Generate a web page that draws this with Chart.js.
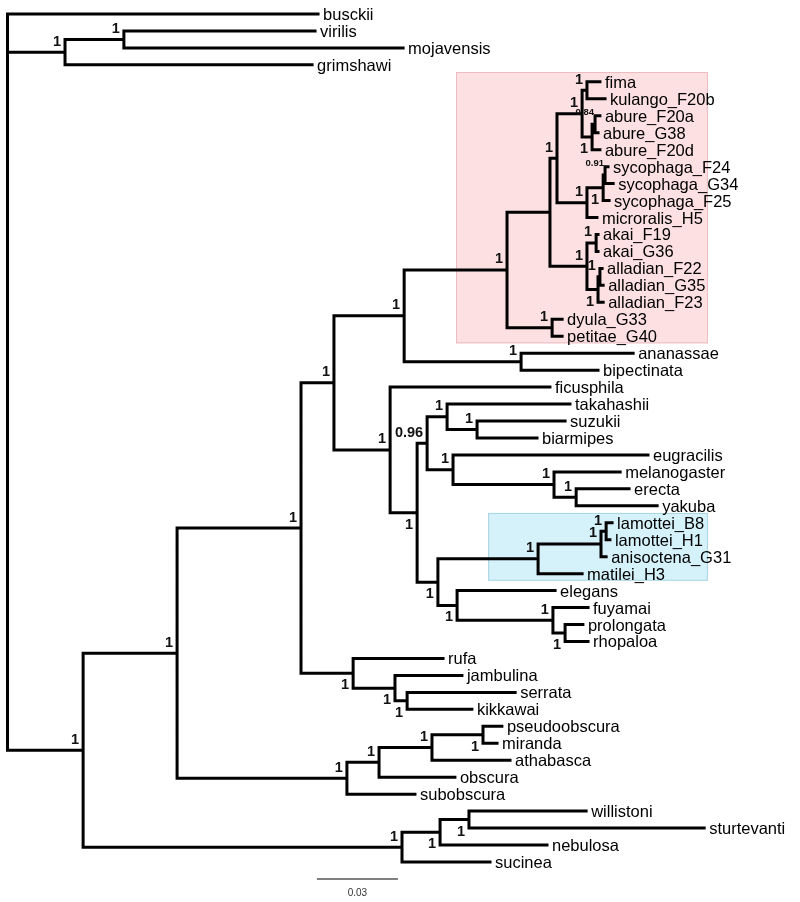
<!DOCTYPE html>
<html>
<head>
<meta charset="utf-8">
<title>Drosophila phylogeny</title>
<script src="https://cdn.jsdelivr.net/npm/chart.js@4.4.1/dist/chart.umd.min.js"></script>
<style>
  body { margin: 0; background: #fff; }
  canvas { display: block; }
</style>
</head>
<body>
<canvas id="tree" width="800" height="902"></canvas>
<script>
// taxa, top to bottom
const taxa = [
    'busckii', 'virilis', 'mojavensis', 'grimshawi',
    'fima', 'kulango_F20b', 'abure_F20a', 'abure_G38', 'abure_F20d',
    'sycophaga_F24', 'sycophaga_G34', 'sycophaga_F25', 'microralis_H5',
    'akai_F19', 'akai_G36', 'alladian_F22', 'alladian_G35', 'alladian_F23',
    'dyula_G33', 'petitae_G40', 'ananassae', 'bipectinata', 'ficusphila',
    'takahashii', 'suzukii', 'biarmipes', 'eugracilis', 'melanogaster',
    'erecta', 'yakuba', 'lamottei_B8', 'lamottei_H1', 'anisoctena_G31',
    'matilei_H3', 'elegans', 'fuyamai', 'prolongata', 'rhopaloa', 'rufa',
    'jambulina', 'serrata', 'kikkawai', 'pseudoobscura', 'miranda',
    'athabasca', 'obscura', 'subobscura', 'willistoni', 'sturtevanti',
    'nebulosa', 'sucinea'
];

// distance of each tip from the root (substitutions/site)
const tipDepth = [
    0.1150, 0.1139, 0.1465, 0.1128,
    0.2194, 0.2213, 0.2194, 0.2187, 0.2194,
    0.2224, 0.2243, 0.2228, 0.2183,
    0.2187, 0.2187, 0.2202, 0.2206, 0.2206,
    0.2054, 0.2054, 0.2317, 0.2187, 0.2009,
    0.2083, 0.2065, 0.1961, 0.2372, 0.2269,
    0.2302, 0.2406, 0.2239, 0.2231, 0.2217,
    0.2128, 0.2028, 0.2150, 0.2131, 0.2150, 0.1613,
    0.1683, 0.1880, 0.1720, 0.1831, 0.1813,
    0.1861, 0.1657, 0.1509, 0.2143, 0.2580,
    0.1998, 0.1787
];

// topology: internal nodes as )support:depth-from-root
const topology = `
(busckii,
 ((virilis,mojavensis)1:0.0431,grimshawi)1:0.0213,
 (
  (
   (
    (
     (
      (
       (
        (
         ((fima,kulango_F20b)1:0.2146,((abure_F20a,abure_G38)0.84:0.2176,abure_F20d)1:0.2165)1:0.2128,
         (((sycophaga_F24,sycophaga_G34)0.91:0.2213,sycophaga_F25)1:0.2206,microralis_H5)1:0.2146
        )1:0.2035,
        ((akai_F19,akai_G36)1:0.2180,((alladian_F22,alladian_G35)1:0.2194,alladian_F23)1:0.2187)1:0.2146
       ):0.2009,
       (dyula_G33,petitae_G40)1:0.2017
      )1:0.1850,
      (ananassae,bipectinata)1:0.1902
     )1:0.1469,
     (ficusphila,
      (
       ((takahashii,(suzukii,biarmipes)1:0.1739)1:0.1628,(eugracilis,(melanogaster,(erecta,yakuba)1:0.2106)1:0.2024)1:0.1650)0.96:0.1554,
       ((((lamottei_B8,lamottei_H1)1:0.2217,anisoctena_G31)1:0.2198,matilei_H3)1:0.1965,(elegans,(fuyamai,(prolongata,rhopaloa)1:0.2065)1:0.2020)1:0.1665)1:0.1594
      )1:0.1517
     )1:0.1417
    )1:0.1209,
    (rufa,(jambulina,(serrata,kikkawai)1:0.1480)1:0.1435)1:0.1280
   )1:0.1087,
   ((((pseudoobscura,miranda)1:0.1761,athabasca)1:0.1572,obscura)1:0.1376,subobscura)1:0.1257
  )1:0.0628,
  (((willistoni,sturtevanti)1:0.1709,nebulosa)1:0.1602,sucinea)1:0.1461
 )1:0.0280
)`;

// nodes whose support value sits under the branch (first tip|last tip)
const labelBelow = [
    'abure_F20a|abure_F20d', 'sycophaga_F24|sycophaga_F25', 'alladian_F22|alladian_F23',
    'takahashii|rhopaloa', 'lamottei_B8|rhopaloa', 'elegans|rhopaloa', 'prolongata|rhopaloa',
    'rufa|kikkawai', 'jambulina|kikkawai', 'serrata|kikkawai', 'pseudoobscura|miranda',
    'willistoni|nebulosa', 'willistoni|sturtevanti'
];

// shaded clades
const cladeFirst = ['fima', 'lamottei_B8'];
const cladeLast = ['petitae_G40', 'matilei_H3'];
const cladeStart = [0.1661, 0.1780];
const cladeEnd = [0.2594, 0.2594];
const cladeFill = ['#fde0e1', '#d5f1fa'];
const cladeEdge = ['#ecbcc0', '#a9d5e4'];

const scaleBarLength = 0.03;

function parseTree(text) {
    const s = text.replace(/\s+/g, '');
    let pos = 0;
    function readNode() {
        const node = { children: [] };
        if (s[pos] === '(') {
            pos++;
            node.children.push(readNode());
            while (s[pos] === ',') {
                pos++;
                node.children.push(readNode());
            }
            pos++;
        }
        let label = '';
        while (pos < s.length && !':,()'.includes(s[pos])) label += s[pos++];
        let depth = '';
        if (s[pos] === ':') {
            pos++;
            while (pos < s.length && !',()'.includes(s[pos])) depth += s[pos++];
        }
        if (node.children.length) {
            node.support = label;
            node.x = depth ? parseFloat(depth) : 0;
        } else {
            node.name = label;
            node.index = taxa.indexOf(label);
            node.x = tipDepth[node.index];
        }
        return node;
    }
    return readNode();
}

// y = tip order, internal nodes halfway between first and last child
function layout(node, internals) {
    if (!node.children.length) {
        node.y = node.index;
        node.first = node.name;
        node.last = node.name;
        return;
    }
    node.children.forEach(c => layout(c, internals));
    const a = node.children[0];
    const b = node.children[node.children.length - 1];
    node.y = (a.y + b.y) / 2;
    node.first = a.first;
    node.last = b.last;
    internals.push(node);
}

const root = parseTree(topology);
const internalNodes = [];
layout(root, internalNodes);

const gap = { x: null, y: null };
const branches = [];
internalNodes.forEach(n => {
    const a = n.children[0];
    const b = n.children[n.children.length - 1];
    branches.push({ x: a.x, y: a.y }, { x: n.x, y: a.y }, { x: n.x, y: b.y }, { x: b.x, y: b.y }, gap);
    n.children.slice(1, -1).forEach(c => {
        branches.push({ x: n.x, y: c.y }, { x: c.x, y: c.y }, gap);
    });
});

const treePlugin = {
    id: 'treeText',
    beforeDatasetsDraw(chart) {
        const { ctx, scales: { x, y } } = chart;
        ctx.save();
        cladeFirst.forEach((first, i) => {
            const left = x.getPixelForValue(cladeStart[i]);
            const right = x.getPixelForValue(cladeEnd[i]);
            const top = y.getPixelForValue(taxa.indexOf(first) - 0.58);
            const bottom = y.getPixelForValue(taxa.indexOf(cladeLast[i]) + 0.42);
            ctx.fillStyle = cladeFill[i];
            ctx.fillRect(left, top, right - left, bottom - top);
            ctx.strokeStyle = cladeEdge[i];
            ctx.lineWidth = 1;
            ctx.strokeRect(left + 0.5, top + 0.5, right - left - 1, bottom - top - 1);
        });
        ctx.restore();
    },
    afterDatasetsDraw(chart) {
        const { ctx, scales: { x, y } } = chart;
        ctx.save();

        // tip names
        ctx.fillStyle = '#000';
        ctx.font = '16.5px "Liberation Sans", Arial, sans-serif';
        ctx.textAlign = 'left';
        ctx.textBaseline = 'alphabetic';
        taxa.forEach((name, i) => {
            ctx.fillText(name, x.getPixelForValue(tipDepth[i]) + 5, y.getPixelForValue(i) + 6);
        });

        // support values
        ctx.textAlign = 'right';
        ctx.fillStyle = '#111';
        internalNodes.forEach(n => {
            if (!n.support) return;
            const px = x.getPixelForValue(n.x);
            const py = y.getPixelForValue(n.y);
            const span = y.getPixelForValue(n.children[n.children.length - 1].y) - y.getPixelForValue(n.children[0].y);
            const small = parseFloat(n.support) < 0.95 && span < 25;
            const below = labelBelow.includes(n.first + '|' + n.last);
            ctx.font = small ? 'bold 9.5px "Liberation Sans", Arial, sans-serif'
                             : 'bold 14.5px "Liberation Sans", Arial, sans-serif';
            ctx.fillText(n.support, small ? px - 1 : px - 4, below ? py + 16 : (small ? py - 9 : py - 6.5));
        });

        // scale bar
        const barLeft = x.getPixelForValue(0.1146);
        const barRight = x.getPixelForValue(0.1146 + scaleBarLength);
        const barY = y.getPixelForValue(51.0);
        ctx.strokeStyle = '#555';
        ctx.lineWidth = 1.5;
        ctx.beginPath();
        ctx.moveTo(barLeft, barY);
        ctx.lineTo(barRight, barY);
        ctx.stroke();
        ctx.fillStyle = '#333';
        ctx.font = '10px "Liberation Sans", Arial, sans-serif';
        ctx.textAlign = 'center';
        ctx.fillText(String(scaleBarLength), (barLeft + barRight) / 2, barY + 17);

        ctx.restore();
    }
};

new Chart(document.getElementById('tree'), {
    type: 'scatter',
    data: {
        datasets: [{
            data: branches,
            showLine: true,
            spanGaps: false,
            borderColor: '#000',
            borderWidth: 3,
            borderCapStyle: 'square',
            borderJoinStyle: 'miter',
            pointRadius: 0,
            pointHoverRadius: 0,
            tension: 0
        }]
    },
    options: {
        responsive: false,
        animation: false,
        events: [],
        layout: { padding: 0 },
        plugins: {
            legend: { display: false },
            tooltip: { enabled: false }
        },
        scales: {
            x: { type: 'linear', display: false, min: -0.00278, max: 0.2935 },
            y: { type: 'linear', display: false, reverse: true, min: -0.825, max: 52.36 }
        }
    },
    plugins: [treePlugin]
});
</script>
</body>
</html>
